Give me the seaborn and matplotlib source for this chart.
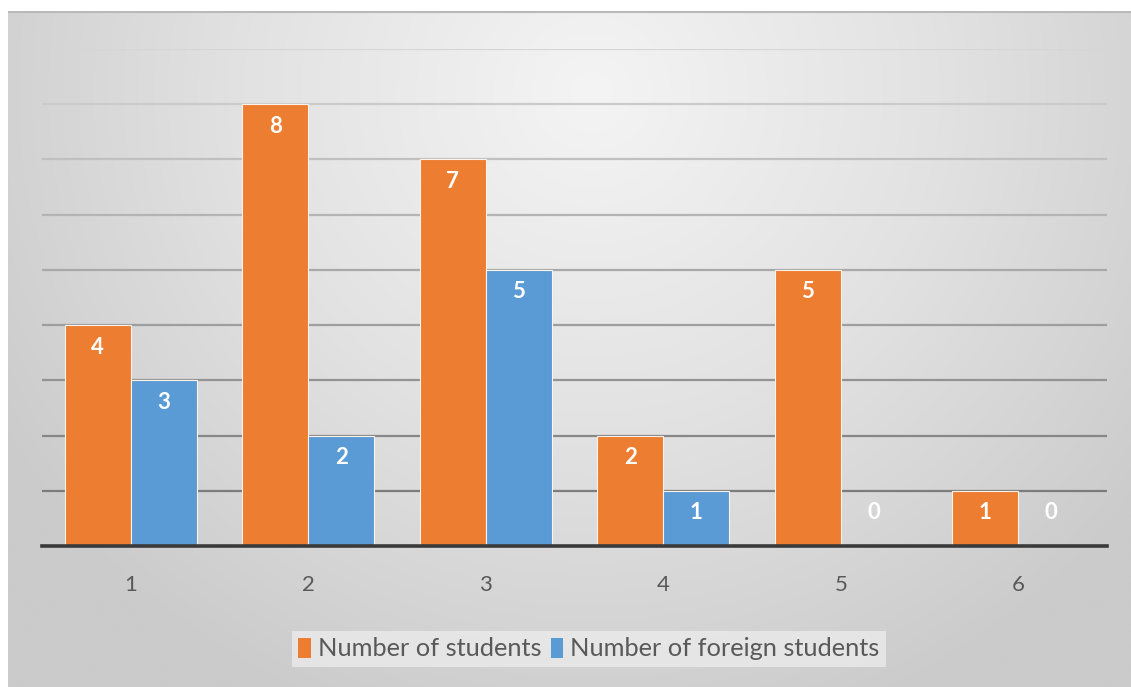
import numpy as np
import pandas as pd
import matplotlib
matplotlib.use("Agg")
import matplotlib.pyplot as plt
from matplotlib.colors import LinearSegmentedColormap, to_rgb
from matplotlib.patches import Patch
import seaborn as sns

# Chart data
groups = ["1", "2", "3", "4", "5", "6"]
students = [4, 8, 7, 2, 5, 1]
foreign_students = [3, 2, 5, 1, 0, 0]
series_names = ["Number of students", "Number of foreign students"]
series_colors = ["#ED7D31", "#5B9BD5"]
y_ticks = list(range(0, 10))

df = pd.DataFrame({
    "group": groups * 2,
    "value": students + foreign_students,
    "series": [series_names[0]] * len(groups) + [series_names[1]] * len(groups),
})

sns.set_theme(style="white")
plt.rcParams["font.family"] = ["Lato", "DejaVu Sans"]

W, H = 1131, 687
fig = plt.figure(figsize=(W / 100, H / 100), dpi=100)
fig.patch.set_facecolor("white")

# Radial grey background panel behind the chart
bg = fig.add_axes([8 / W, 0, 1 - 8 / W, 1 - 11 / H], zorder=-10)
ny, nx = 400, 700
yy, xx = np.mgrid[0:1:ny * 1j, 0:1:nx * 1j]
r = np.sqrt(((xx - 0.52) / 0.62) ** 2 + ((yy - 0.12) / 1.0) ** 2)
r = np.clip(r, 0, 1)
cmap = LinearSegmentedColormap.from_list("bgfade", ["#f4f4f4", "#e2e2e2", "#cbcbcb"])
bg.imshow(r, cmap=cmap, aspect="auto", extent=[0, 1, 1, 0], interpolation="bilinear")
bg.set_xlim(0, 1)
bg.set_ylim(1, 0)
bg.axhline(0.002, color="#b9b9b9", lw=1.5)
bg.axis("off")

ax = fig.add_axes([42 / W, 1 - 546 / H, (1107 - 42) / W, (546 - 49) / H])
ax.patch.set_alpha(0)

sns.barplot(data=df, x="group", y="value", hue="series", order=groups,
            hue_order=series_names, palette=series_colors, width=0.745,
            edgecolor="#fdf3ea", linewidth=0.8, saturation=1, ax=ax,
            legend=False, zorder=3)

ax.set_xlim(-0.5, len(groups) - 0.5)
ax.set_ylim(0, 9)
ax.set_xlabel("")
ax.set_ylabel("")
ax.set_yticks([])
for s in ["top", "right", "left"]:
    ax.spines[s].set_visible(False)
ax.spines["bottom"].set_color("#3a3a3a")
ax.spines["bottom"].set_linewidth(2.6)
ax.spines["bottom"].set_zorder(5)

# Gridlines that darken toward the baseline
dark, light = np.array(to_rgb("#7c7c7c")), np.array(to_rgb("#d6d6d6"))
for t in y_ticks[1:]:
    f = (t - 1) / (len(y_ticks) - 2)
    ax.axhline(t, color=dark + (light - dark) * f, lw=1.6, zorder=1)

ax.tick_params(axis="x", length=0, pad=21, labelsize=16, labelcolor="#595959")

# Value labels inside the top of each bar
for container in ax.containers:
    for bar in container:
        h = bar.get_height()
        ax.text(bar.get_x() + bar.get_width() / 2, max(h, 1) - 0.4,
                f"{h:.0f}", ha="center", va="center", color="white",
                fontsize=16, fontweight="bold", zorder=6)

handles = [Patch(facecolor=c, edgecolor="none") for c in series_colors]
leg = fig.legend(handles, series_names, loc="center", bbox_to_anchor=(589 / W, 1 - 649 / H),
                 ncol=2, frameon=True, fontsize=18.3, handlelength=0.48, handleheight=0.85,
                 handletextpad=0.3, columnspacing=0.35, borderpad=0.25, fancybox=False)
leg.get_frame().set_facecolor("#ebebeb")
leg.get_frame().set_edgecolor("none")
for txt in leg.get_texts():
    txt.set_color("#595959")

fig.savefig("out.png", dpi=100)
